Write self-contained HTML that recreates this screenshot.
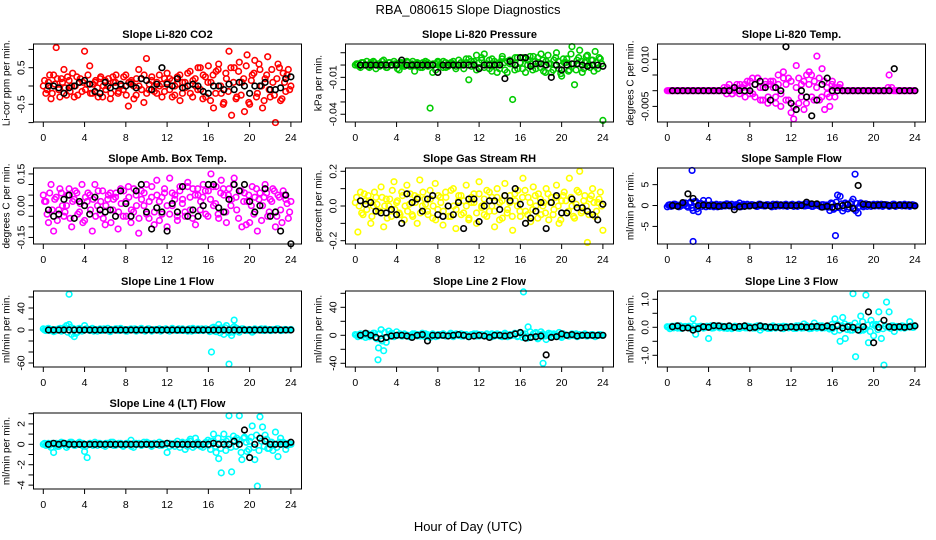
<!DOCTYPE html>
<html><head><meta charset="utf-8"><style>
html,body{margin:0;padding:0;background:#fff;}
svg{display:block;font-family:"Liberation Sans",sans-serif;}
</style></head><body>
<svg id="chart" width="936" height="540" viewBox="0 0 936 540" xmlns="http://www.w3.org/2000/svg">
<text x="468" y="14" text-anchor="middle" font-size="13">RBA_080615  Slope Diagnostics</text>
<text x="468" y="531" text-anchor="middle" font-size="13">Hour of Day (UTC)</text>
</svg>
<script>
// ---- data ----
const xTicks = [0,4,8,12,16,20,24];
const co2Color = [0.0,-0.2,0.1,-0.35,0.3,1.05,-0.1,0.2,0.45,-0.25,0.15,0.0,-0.3,0.25,0.1,-0.15,0.95,0.05,0.55,-0.2,0.1,-0.05,0.2,-0.3,0.15,0.0,-0.35,0.25,0.1,-0.2,0.05,-0.1,0.3,-0.55,0.1,0.0,-0.25,0.45,0.2,-0.45,0.75,-0.1,0.15,0.0,-0.2,0.3,0.05,-0.15,0.1,0.2,-0.3,0.0,0.25,-0.4,0.1,-0.05,0.35,-0.2,0.15,0.0,0.5,-0.1,0.3,-0.3,0.55,0.1,-0.6,0.4,0.6,-0.2,-0.45,0.2,0.95,-0.8,0.5,-0.3,0.65,0.1,-0.7,0.85,-0.5,0.3,0.7,-0.2,0.45,-0.6,0.2,0.8,-0.3,0.1,-1.0,0.6,-0.4,0.35,-0.15,0.45,0.0];
const co2Color2 = [0.15,-0.1,0.3,-0.2,0.05,0.2,-0.3,0.1,-0.05,0.25,-0.15,0.35,0.0,-0.25,0.2,0.1,-0.1,0.3,-0.2,0.05,0.15,-0.3,0.25,0.0,-0.1,0.2,-0.2,0.1,0.3,-0.15,0.0,0.25,-0.25,0.1,0.15,-0.35,0.2,0.0,-0.1,0.3,-0.2,0.05,0.25,-0.15,0.1,0.0,-0.3,0.2,0.35,-0.1,0.15,-0.25,0.05,0.3,-0.2,0.1,0.0,0.4,-0.3,0.2,-0.1,0.5,-0.35,0.25,0.1,-0.4,0.3,-0.2,0.45,0.0,-0.5,0.35,-0.15,0.5,0.1,-0.35,0.4,-0.25,0.2,0.55,-0.45,0.15,0.35,-0.3,0.6,0.0,-0.4,0.3,-0.1,0.45,-0.25,0.2,0.5,-0.35,0.1,0.3,-0.1];
const co2Black = [0.0,0.0,-0.05,-0.2,-0.05,0.0,0.1,0.15,0.05,-0.15,-0.2,0.1,-0.05,0.0,0.05,0.0,0.05,-0.05,0.2,0.15,-0.1,0.05,0.5,0.05,0.0,0.2,-0.05,0.0,0.05,0.0,-0.15,-0.2,0.0,0.0,-0.1,0.05,-0.1,0.1,0.0,-0.2,0.0,0.0,0.1,-0.1,-0.1,-0.05,0.2,0.25];
const presColor = [0,0.001,-0.002,0.002,0,-0.001,0.002,0.003,-0.003,0.001,0,0.004,-0.002,0.002,0,0.003,0.001,-0.004,0.002,-0.001,0.003,0,0.001,-0.005,0.002,0,-0.002,0.001,0.002,-0.035,-0.006,0.001,0.003,0,-0.002,0.002,-0.001,0.001,0.003,-0.003,0,0.002,0.001,0.005,-0.012,0.003,0.001,0.008,-0.002,0.004,0.009,0,-0.003,0.005,0.001,-0.006,0.002,0.007,-0.004,0.003,0.001,-0.028,0.006,-0.003,0.002,0.006,-0.006,0.004,0.001,0.007,-0.003,0.002,0.009,-0.005,0.003,0.001,-0.006,0.004,0.010,-0.003,-0.009,0.002,0.005,-0.004,0.015,-0.016,0.004,0.012,-0.006,0.002,0.008,-0.002,0.004,0.011,-0.003,0.005,-0.045];
const presColor2 = [0.001,-0.001,0.002,0,0.003,-0.002,0.001,0.002,0,-0.001,0.003,0.001,-0.002,0.002,0,0.001,-0.003,0.002,0.001,0,0.002,-0.001,0.003,0,0.001,-0.002,0.002,0.003,-0.001,0,0.001,-0.004,0.002,0.001,0.003,-0.002,0,0.002,0.001,-0.001,0.004,0,-0.003,0.002,0.005,-0.001,0.003,-0.004,0.002,0.006,-0.002,0.001,0.004,-0.005,0.003,0.001,-0.003,0.005,0.002,-0.006,0.004,0.001,-0.004,0.006,0.002,-0.003,0.005,0,0.007,-0.004,0.003,0.006,-0.002,0.004,-0.006,0.008,0.001,-0.004,0.006,0.003,-0.007,0.005,0.002,-0.005,0.009,0.001,-0.004,0.006,0.003,-0.003,0.007,0,0.004,-0.005,0.002,0.006,0.001];
const presBlack = [0,0,0,0,0,0,0,0,0.004,0,0,0,0,0,0,-0.006,0,0,0,0,0,0,0,-0.003,0,0,0,0,-0.011,0.003,0,0.006,0.006,-0.001,0.001,0.001,0,-0.01,0,-0.004,0,0.001,0.001,0,-0.001,0,0,-0.001];
const tempColor = [0,0,0,0,0,0,0,0,0,0,0,0,0,0,0,0,0,0,0,0,0,0,0.001,-0.001,0.002,-0.001,0,0.002,-0.001,0.001,0.002,0.003,-0.001,0.004,-0.002,0.004,0.001,-0.003,0.003,-0.004,0.002,0.003,-0.002,0.005,-0.005,0.006,-0.003,0.004,-0.007,-0.009,0.008,-0.004,0.002,-0.006,0.005,0.006,-0.002,0.003,0.011,-0.003,0.007,-0.006,-0.001,-0.005,0.003,-0.002,0.001,0.002,0,0,0,0,0,0,0,0,0,0,0,0,0,0,0,0,0,0,0.005,0.001,0,0,0,0,0,0,0,0,0];
const tempColor2 = [0,0,0,0,0,0,0,0,0,0,0,0,0,0,0,0,0,0,0,0,0,0,0,0.001,0,-0.001,0.001,0,0.002,0.001,-0.002,0.001,0.003,-0.001,0.002,0.004,-0.003,0.001,0.002,-0.002,0.003,0.001,-0.004,0.002,-0.001,0.004,0.002,-0.003,0.003,-0.005,0.001,0.004,-0.002,0.003,-0.004,0.002,0.005,-0.003,0.001,0.004,-0.002,0.003,0.001,-0.002,0.002,0.001,0,0.001,0,0,0,0,0,0,0,0,0,0,0,0,0,0,0,0,0,0,0.001,0,0,0,0,0,0,0,0,0,0];
const tempBlack = [0,0,0,0,0,0,0,0,0,0,0,0,0.001,0,0,0,0.002,0.003,0.001,-0.003,0.001,0,0.014,-0.004,-0.006,0,-0.002,-0.008,-0.003,0.002,0.004,0,0,0,0,0,0,0,0,0,0,0,0,0.007,0,0,0,0];
const ambColor = [0.05,0.02,-0.08,0.1,-0.12,0.04,-0.02,0.06,-0.05,0.0,0.08,-0.1,0.03,0.06,-0.03,0.1,-0.07,0.02,0.05,-0.12,0.1,0.0,-0.04,0.07,-0.09,0.03,0.06,-0.02,0.04,-0.11,0.08,-0.05,0.02,0.09,-0.08,-0.03,0.05,-0.13,0.07,0.0,0.1,-0.06,0.04,-0.09,0.12,0.02,-0.04,0.06,-0.1,0.13,0.0,0.05,-0.07,0.09,0.03,-0.05,0.11,-0.02,0.08,-0.09,0.05,0.02,0.1,-0.04,0.07,0.15,0.0,0.09,-0.06,0.12,0.05,-0.08,0.08,0.03,0.13,-0.02,0.07,-0.1,0.06,0.02,-0.08,0.09,0.04,-0.12,0.06,0.0,0.1,-0.05,0.03,0.08,-0.1,0.05,-0.02,0.07,0.03,-0.06,0.02];
const ambColor2 = [0.02,-0.04,0.06,-0.02,0.03,-0.07,0.08,0.0,-0.03,0.05,-0.06,0.02,0.07,-0.04,0.01,-0.08,0.04,0.06,-0.02,0.03,-0.05,0.07,0.02,-0.06,0.0,0.05,-0.08,0.03,0.06,-0.03,0.01,0.07,-0.05,0.04,-0.02,0.08,0.0,-0.06,0.03,0.06,-0.04,0.02,0.09,-0.03,0.05,-0.07,0.04,0.08,0.0,-0.04,0.06,0.03,-0.05,0.07,0.01,-0.03,0.09,0.04,-0.06,0.05,0.08,-0.02,0.04,0.07,-0.05,0.03,0.09,0.01,-0.04,0.06,0.08,-0.03,0.05,0.0,0.1,0.04,-0.06,0.07,0.02,-0.09,0.05,0.0,-0.04,0.08,0.03,-0.07,0.04,0.06,-0.03,0.02,0.07,-0.05,0.04,-0.08,0.05,0.01,-0.03];
const ambBlack = [-0.02,-0.05,-0.04,0.03,0.05,-0.06,0.02,0.0,-0.04,0.04,-0.02,-0.03,-0.02,-0.05,0.07,0.01,-0.05,0.07,0.1,-0.03,-0.11,-0.01,-0.03,-0.12,0.01,-0.03,0.09,-0.05,-0.02,-0.05,0.0,0.1,0.1,-0.01,-0.03,0.03,0.1,0.07,0.1,0.02,-0.03,0.0,0.08,-0.05,-0.03,-0.12,0.05,-0.18];
const rhColor = [0.02,-0.15,0.08,-0.05,0.03,0.06,-0.1,0.0,0.05,-0.03,0.11,-0.12,0.04,0.0,-0.06,0.14,0.02,-0.04,0.08,-0.08,0.12,0.01,-0.05,0.06,-0.1,0.15,0.0,0.04,-0.03,0.09,-0.07,0.13,-0.02,0.05,-0.11,0.08,0.0,-0.06,0.1,-0.13,0.03,0.06,-0.04,0.12,-0.08,0.02,0.07,-0.1,0.14,0.0,-0.05,0.09,-0.03,0.05,-0.12,0.1,0.02,-0.07,0.13,-0.02,0.06,-0.14,0.03,0.09,-0.06,0.16,-0.03,0.05,-0.09,0.11,0.0,0.07,-0.05,0.02,0.1,-0.08,0.05,-0.02,0.12,-0.1,0.03,0.08,-0.04,0.16,0.0,-0.07,0.09,0.2,-0.03,0.06,-0.21,0.04,0.1,-0.06,0.02,0.08,-0.14];
const rhColor2 = [0.05,0.0,-0.04,0.07,-0.02,0.03,-0.06,0.08,0.01,-0.03,0.05,0.0,-0.07,0.04,0.09,-0.02,0.03,-0.05,0.06,0.0,-0.03,0.07,-0.06,0.02,0.05,-0.04,0.08,0.01,-0.05,0.04,0.0,-0.08,0.06,0.02,-0.03,0.05,-0.06,0.09,0.0,-0.02,0.06,-0.05,0.03,0.0,-0.07,0.05,0.02,-0.04,0.07,-0.01,0.04,-0.06,0.08,0.0,-0.03,0.05,-0.08,0.03,0.06,-0.04,0.02,-0.06,0.07,0.0,-0.03,0.05,0.09,-0.05,0.02,-0.02,0.06,-0.07,0.04,0.0,-0.04,0.07,0.02,-0.05,0.05,0.0,-0.08,0.06,0.03,-0.03,0.05,-0.06,0.01,0.08,-0.04,0.03,0.0,-0.05,0.06,0.02,-0.03,0.04,0.0];
const rhBlack = [0.03,0.01,0.02,-0.03,-0.04,-0.04,-0.02,-0.05,-0.1,0.07,0.02,0.04,-0.03,0.04,0.06,-0.05,-0.06,0.0,-0.05,0.02,-0.13,0.04,0.04,-0.09,0.0,0.03,0.03,-0.02,0.06,0.03,0.1,0.01,-0.1,-0.07,-0.03,0.02,-0.13,0.02,0.06,-0.04,-0.04,0.04,-0.01,-0.01,-0.03,-0.05,-0.08,0.01];
const sampleColor = [-0.3,0.2,-0.1,0.3,0.1,-0.2,0.4,0.6,-0.4,0.8,-1.2,1.0,-1.5,0.5,1.2,-0.3,1.2,0.2,-0.3,0.3,0.1,-0.2,0.2,0.4,-0.1,0.3,-0.3,0.2,0.6,-0.2,0.1,0.3,-0.1,0.2,0.0,-0.2,0.3,0.1,-0.1,0.2,0.0,0.3,-0.2,0.1,0.2,-0.1,0.3,0.0,0.2,-0.2,0.1,0.3,0.0,-0.1,0.4,0.1,-0.2,0.2,0.3,-0.1,0.2,-0.3,0.1,-1.2,0.4,-0.6,2.5,2.2,-1.3,0.6,-0.8,0.5,1.5,-1.2,-1.8,0.6,-0.3,0.4,0.2,-0.2,0.3,0.1,-0.1,0.3,0.0,0.2,-0.2,0.1,0.3,0.0,0.2,-0.1,0.3,0.1,-0.2,0.2,0.0];
const sampleColor2 = [0.1,-0.2,0.3,0.0,-0.3,0.2,0.1,-0.1,0.5,-0.6,0.9,-0.8,0.4,-0.2,0.3,0.1,-0.2,0.2,0.0,-0.3,0.2,0.1,-0.1,0.3,0.0,-0.2,0.2,0.1,-0.3,0.3,0.0,-0.1,0.2,0.1,-0.2,0.3,0.0,-0.1,0.2,0.0,-0.3,0.1,0.3,-0.1,0.0,0.2,-0.2,0.1,0.3,0.0,-0.2,0.1,0.2,-0.1,0.0,0.3,-0.2,0.1,0.0,-0.3,0.2,0.1,-0.4,0.6,-0.9,0.8,-0.5,0.4,-0.6,0.3,-0.4,0.9,-0.7,0.5,-0.2,0.3,0.0,-0.2,0.2,0.1,-0.1,0.3,0.0,-0.2,0.2,0.1,-0.1,0.3,-0.2,0.0,0.2,0.1,-0.1,0.2,0.0,0.1];
const sampleBlack = [0,-0.2,0.7,2.8,1.7,0,0.1,0,0,-0.2,0,0,-1,-0.3,-0.2,-0.1,0,0.2,0,-0.1,0.1,0.1,0,0,0,0,0.8,0.4,0.4,-0.4,-0.2,-0.4,-0.2,0,0.2,-0.7,4.8,0.3,0.2,0,0.1,0.2,0,0,0.1,0,0.1,-0.1];
const sampleOutH = [2.4,2.5,16.3,18.2];
const sampleOutV = [8.4,-8.6,-7.2,7.5];
const line1Color = [2,-1,3,0,-3,1,2,-2,4,8,10,-8,-12,-5,3,-2,8,2,-1,3,0,-2,2,-1,1,3,-3,0,2,-1,3,0,-2,1,2,0,-2,1,3,-1,0,2,-2,1,0,2,-1,1,0,-2,3,0,1,-1,2,0,-2,1,3,-1,2,0,-1,2,0,-2,5,-3,10,4,-8,8,-5,-10,6,3,-4,2,0,-1,1,-4,2,0,1,-1,2,0,-1,1,0,2,-1,0,1,0,1];
const line1Color2 = [0,2,-1,1,-2,0,3,-1,2,-4,5,3,-6,2,0,-1,2,0,1,-2,1,0,-1,2,0,-2,1,0,2,-1,0,1,-2,0,1,2,-1,0,1,-2,2,0,-1,1,0,-2,1,2,-1,0,1,-1,2,0,-1,0,2,-2,1,0,-1,2,0,1,-3,4,-2,3,-5,2,4,-3,2,-4,3,-1,0,2,-1,1,0,-2,1,0,2,-1,0,1,-1,0,2,0,-1,1,0,0];
const line1Black = [0,0,0,0,0,0,0,0,0,0,0,0,0,0,0,0,0,0,0,0,0,0,0,0,0,0,0,0,0,0,0,0,0,0,0,0,0,0,0,0,0,0,0,0,0,0,0,0];
const line1OutH = [2.5,16.3,18.0,18.5];
const line1OutV = [65,-40,-62,18];
const line2Color = [1,-2,2,0,-3,2,-1,3,-4,-18,8,-22,-10,6,3,-2,5,1,-1,2,0,-2,1,2,-1,0,3,-2,1,-3,2,0,-1,1,2,-1,0,3,-2,1,0,2,-1,1,-2,0,2,-1,1,0,-1,2,0,-2,1,2,-1,0,3,-2,1,0,2,-1,3,1,-2,12,-3,2,4,-4,5,1,-6,3,-2,2,0,4,-3,1,0,-1,2,0,-2,1,0,2,-1,0,1,-2,0,1,0];
const line2Color2 = [0,1,-1,2,0,-2,1,3,-5,2,-8,4,-3,1,2,-1,0,2,-1,1,0,-2,2,0,1,-1,0,2,-1,0,1,-2,1,0,2,-1,0,1,-1,2,0,-1,1,0,-2,1,0,2,-1,1,0,-1,0,2,-1,0,1,-2,2,0,-1,1,3,-2,4,-3,2,-4,5,-2,3,-5,1,2,-1,0,2,-1,1,0,-1,2,0,-1,1,0,2,-1,0,1,-1,0,1,0,-1,1,0];
const line2Black = [0,3,0,-3,-5,-3,-1,0,0,-1,-3,0,1,-8,0,0,0,-1,0,1,0,-2,-1,0,-1,-3,0,0,-1,0,2,4,-4,-3,-2,-1,-28,-3,-2,2,0,1,-1,0,0,0,0,0];
const line2OutH = [2.2,16.3,18.2];
const line2OutV = [-35,62,-40];
const line3Color = [0.02,-0.05,0.04,0.0,-0.03,0.05,-0.02,0.03,0.0,-0.04,0.3,-0.25,0.02,0.04,-0.03,0.0,-0.4,0.05,-0.02,0.03,0.0,0.04,-0.03,0.02,0.0,-0.05,0.03,0.02,-0.04,0.0,0.05,-0.02,0.03,0.0,-0.03,0.05,-0.1,0.03,0.0,-0.04,0.02,0.05,-0.03,0.0,0.02,-0.05,0.03,0.0,0.02,-0.04,0.05,0.0,-0.03,0.12,0.02,-0.05,0.03,0.15,-0.03,0.0,0.05,-0.02,0.03,0.0,-0.05,0.3,0.1,-0.5,0.35,-0.4,0.05,-0.1,1.2,-1.05,0.03,0.4,-0.1,1.15,-0.55,0.25,-0.3,0.1,0.55,-0.4,-1.35,0.9,0.55,0.05,-0.15,0.03,0.0,0.05,-0.03,0.02,0.2,0.0,0.05];
const line3Color2 = [0.0,0.03,-0.02,0.05,0.0,-0.04,0.02,0.0,0.04,-0.02,0.05,-0.06,0.0,0.03,-0.02,0.04,0.0,-0.03,0.02,0.05,-0.02,0.0,0.03,-0.04,0.02,0.0,0.04,-0.03,0.0,0.02,-0.02,0.04,0.0,-0.03,0.03,0.0,0.05,-0.02,0.02,0.0,-0.04,0.03,0.0,0.02,-0.03,0.04,0.0,-0.02,0.03,0.0,-0.04,0.05,0.0,-0.02,0.06,0.0,-0.04,0.03,0.0,0.05,-0.03,0.02,0.0,-0.06,0.1,-0.15,0.08,-0.1,0.05,0.12,-0.08,0.06,-0.1,0.15,0.0,-0.12,0.2,-0.05,0.08,-0.15,0.1,0.05,-0.08,0.12,-0.05,0.03,0.0,-0.04,0.05,0.0,0.03,-0.02,0.04,0.0,0.02,0.05,0.0];
const line3Black = [0.02,0.05,-0.03,-0.02,-0.1,-0.05,0.02,0.0,0.06,0.05,0.02,0.05,0.0,0.03,0.05,-0.02,0.0,0.05,0.02,0.0,0.0,-0.02,0.0,0.02,0.0,0.02,0.0,0.02,0.03,0.0,0.05,0.0,0.05,-0.03,0.02,0.0,-0.1,0.02,0.55,-0.55,0.0,0.25,0.02,0.0,0.02,0.0,0.02,0.05];
const line4Color = [0.0,-0.1,0.1,-0.3,-0.8,0.1,-0.2,0.2,0.0,-0.3,0.1,0.2,-0.1,0.0,0.2,-0.1,-0.7,-1.3,0.1,0.0,0.2,-0.1,0.1,0.0,-0.2,0.1,0.0,0.2,-0.1,0.0,0.1,-0.2,0.0,0.1,0.4,-0.3,0.1,0.0,-0.1,0.2,0.0,0.1,-0.2,0.1,0.0,0.2,-0.1,0.0,-0.8,0.1,0.0,-0.2,0.3,0.0,0.1,-0.5,0.2,0.5,-0.3,0.6,0.1,-0.2,0.0,0.2,-0.1,0.3,1.0,-0.8,-1.4,-2.8,1.0,0.3,2.8,-2.7,0.4,0.6,2.8,-1.5,0.7,-0.7,0.3,1.8,-1.5,-4.1,2.7,1.7,0.9,-0.4,0.2,-0.6,1.2,-1.2,0.6,0.2,-0.5,0.1,0.0];
const line4Color2 = [0.1,0.0,-0.1,0.1,0.0,-0.2,0.1,0.0,0.1,-0.1,0.2,0.0,-0.1,0.1,0.0,0.1,-0.2,0.0,0.1,-0.1,0.0,0.1,0.0,-0.1,0.1,0.0,0.2,-0.1,0.0,0.1,0.0,-0.1,0.1,0.0,-0.2,0.1,0.0,0.1,-0.1,0.0,0.2,0.0,-0.1,0.1,0.0,-0.1,0.1,0.0,0.1,-0.2,0.0,0.1,0.0,-0.3,0.2,0.0,-0.2,0.3,0.0,-0.1,0.2,0.0,-0.3,0.1,0.4,-0.5,0.3,-0.2,0.6,-0.4,0.2,-0.6,0.5,-0.3,0.8,-0.2,0.4,-0.8,0.6,0.2,-0.5,0.7,-0.3,0.9,-0.6,0.3,-0.2,0.5,-0.4,0.2,0.0,-0.3,0.2,0.0,0.1,-0.1,0.0];
const line4Black = [0,0.1,0,0.1,0,0,0,0,0,0,0,0,0,0,0,0,0,0,0,0,0,0,0,0.1,0,0,0,0,0,0,0,0,0.1,0,0,0,0.3,0,1.4,-1.3,0,0.6,0.3,0,0,0,0,0.2];

// ---- layout ----
const NS = "http://www.w3.org/2000/svg";
const svg = document.getElementById('chart');
const colX = [33.5,345.5,657.5], boxW = 268;
const rowY = [[44,122],[168,244],[291,367],[413,489]];
const panels = [
 {name:'co2', title:'Slope Li-820 CO2', ylab:'Li-cor ppm per min.', c:0,r:0, ymin:-0.984, ymax:1.148, ticks:[-1,-0.5,0,0.5,1], labels:['','-0.5','','0.5',''], col:'#ff0000', colData:co2Color, colData2:co2Color2, blk:co2Black},
 {name:'pressure', title:'Slope Li-820 Pressure', ylab:'kPa per min.', c:1,r:0, ymin:-0.0463, ymax:0.0171, ticks:[-0.04,-0.03,-0.02,-0.01,0,0.01], labels:['-0.04','','','-0.01','',''], col:'#00cc00', colData:presColor, colData2:presColor2, blk:presBlack},
 {name:'temp', title:'Slope Li-820 Temp.', ylab:'degrees C per min.', c:2,r:0, ymin:-0.00997, ymax:0.01487, ticks:[-0.005,0,0.005,0.01], labels:['-0.005','','','0.010'], col:'#ff00ff', colData:tempColor, colData2:tempColor2, blk:tempBlack},
 {name:'amb-box-temp', title:'Slope Amb. Box Temp.', ylab:'degrees C per min.', c:0,r:1, ymin:-0.181, ymax:0.178, ticks:[-0.15,-0.1,-0.05,0,0.05,0.1,0.15], labels:['-0.15','','','0.00','','','0.15'], col:'#ff00ff', colData:ambColor, colData2:ambColor2, blk:ambBlack},
 {name:'gas-stream-rh', title:'Slope Gas Stream RH', ylab:'percent per min.', c:1,r:1, ymin:-0.219, ymax:0.219, ticks:[-0.2,-0.1,0,0.1,0.2], labels:['-0.2','','0.0','','0.2'], col:'#ffff00', colData:rhColor, colData2:rhColor2, blk:rhBlack},
 {name:'sample-flow', title:'Slope Sample Flow', ylab:'ml/min per min.', c:2,r:1, ymin:-9.21, ymax:8.98, ticks:[-5,0,5], labels:['-5','0','5'], col:'#0000ff', colData:sampleColor, colData2:sampleColor2, blk:sampleBlack, oh:sampleOutH, ov:sampleOutV},
 {name:'line1-flow', title:'Slope Line 1 Flow', ylab:'ml/min per min.', c:0,r:2, ymin:-67.3, ymax:70.9, ticks:[-60,-40,-20,0,20,40,60], labels:['-60','','','0','','40',''], col:'#00ffff', colData:line1Color, colData2:line1Color2, blk:line1Black, oh:line1OutH, ov:line1OutV},
 {name:'line2-flow', title:'Slope Line 2 Flow', ylab:'ml/min per min.', c:1,r:2, ymin:-45.3, ymax:63.3, ticks:[-40,-20,0,20,40,60], labels:['-40','','0','','40',''], col:'#00ffff', colData:line2Color, colData2:line2Color2, blk:line2Black, oh:line2OutH, ov:line2OutV},
 {name:'line3-flow', title:'Slope Line 3 Flow', ylab:'ml/min per min.', c:2,r:2, ymin:-1.418, ymax:1.296, ticks:[-1,-0.5,0,0.5,1], labels:['-1.0','','0.0','','1.0'], col:'#00ffff', colData:line3Color, colData2:line3Color2, blk:line3Black},
 {name:'line4-flow', title:'Slope Line 4 (LT) Flow', ylab:'ml/min per min.', c:0,r:3, ymin:-4.38, ymax:3.07, ticks:[-4,-3,-2,-1,0,1,2,3], labels:['-4','','-2','','0','','2',''], col:'#00ffff', colData:line4Color, colData2:line4Color2, blk:line4Black}
];

function mk(tag, attrs, parent){
  const e = document.createElementNS(NS, tag);
  for (const k in attrs) e.setAttribute(k, attrs[k]);
  (parent||svg).appendChild(e);
  return e;
}

panels.forEach(p => {
  const L = colX[p.c], R = L + boxW, T = rowY[p.r][0], B = rowY[p.r][1];
  const xs = h => L + 9.8 + h * (257.4 - 9.8) / 24;
  const ys = v => B - (v - p.ymin) / (p.ymax - p.ymin) * (B - T);
  const g = mk('g', {});
  
  

  const t = mk('text', {x:(L+R)/2, y:T-6, 'text-anchor':'middle', 'font-size':11, 'font-weight':'bold'}, g);
  t.textContent = p.title;
  
  

  const yl = mk('text', {x:0, y:0, 'text-anchor':'middle', 'font-size':10, transform:`translate(${L-24},${(T+B)/2}) rotate(-90)`}, g);
  yl.textContent = p.ylab;
  
  

  const pts = mk('g', {fill:'none', 'stroke-width':1.6}, g);
  
  
  const n = p.colData.length;
  p.colData.forEach((v, i) => {
    const c = mk('circle', {cx:xs(i*24/(n-1)), cy:ys(v), r:2.8, stroke:p.col}, pts);
    
    
  });
  const n2 = p.colData2.length;
  p.colData2.forEach((v, i) => {
    const c = mk('circle', {cx:xs((i+0.5)*24/n2), cy:ys(v), r:2.8, stroke:p.col}, pts);
    
    
  });
  if (p.oh) p.oh.forEach((h, i) => {
    const c = mk('circle', {cx:xs(h), cy:ys(p.ov[i]), r:2.8, stroke:p.col}, pts);
    
    
  });
  p.blk.forEach((v, i) => {
    const c = mk('circle', {cx:xs(0.5*(i+1)), cy:ys(v), r:2.8, stroke:'#000'}, pts);
    
    
  });

  const box = mk('rect', {x:L, y:T, width:boxW, height:B-T, fill:'none', stroke:'#000', 'stroke-width':1}, g);
  
  

  const ya = mk('g', {}, g);
  
  
  mk('line', {x1:L, x2:L, y1:ys(p.ticks[0]), y2:ys(p.ticks[p.ticks.length-1]), stroke:'#000'}, ya);
  p.ticks.forEach((v, i) => {
    mk('line', {x1:L-5, x2:L, y1:ys(v), y2:ys(v), stroke:'#000'}, ya);
    if (p.labels[i]) {
      const lt = mk('text', {x:0, y:0, 'text-anchor':'middle', 'font-size':10.5, transform:`translate(${L-9},${ys(v)}) rotate(-90)`}, ya);
      lt.textContent = p.labels[i];
      
      
    }
  });

  const xa = mk('g', {}, g);
  
  
  mk('line', {x1:xs(0), x2:xs(24), y1:B, y2:B, stroke:'#000'}, xa);
  xTicks.forEach(h => {
    mk('line', {x1:xs(h), x2:xs(h), y1:B, y2:B+5, stroke:'#000'}, xa);
    const xt = mk('text', {x:xs(h), y:B+19, 'text-anchor':'middle', 'font-size':10.5}, xa);
    xt.textContent = h;
    
    
  });
});
</script>
</body></html>
